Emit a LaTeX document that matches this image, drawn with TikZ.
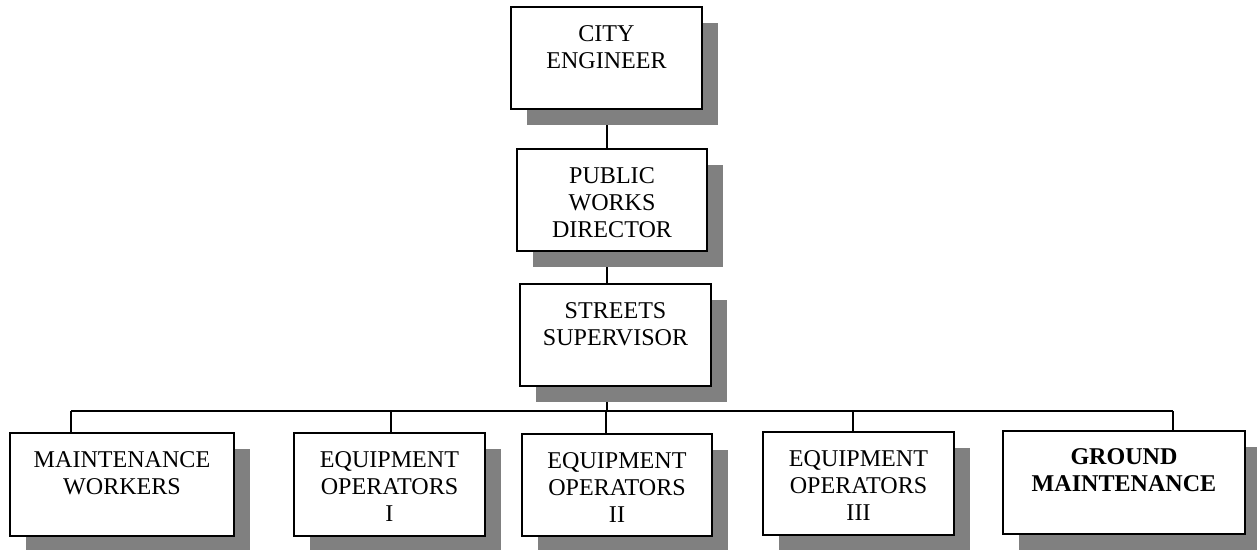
\documentclass[tikz,border=0pt]{standalone}
\usepackage{fontspec}
\setmainfont{Liberation Serif}
\usetikzlibrary{shadows,backgrounds}

\begin{document}
\begin{tikzpicture}[every node/.style={font=\fontsize{13.7}{15.4}\selectfont},
  poste/.style={draw, line width=1.1pt, fill=white, minimum width=#1, minimum height=2.05cm, inner sep=0pt,
    drop shadow={shadow xshift=0.31cm, shadow yshift=-0.32cm, fill=black!50, opacity=1}},
  poste/.default=3.82cm,
  titre/.style={anchor=north, inner sep=0pt, yshift=-0.38cm, align=center},
  lien/.style={line width=0.85pt}]
  \useasboundingbox (0,0) rectangle (25.14,-11);

  % Direction (en haut)
  \node[poste] (ce) at (12.13,-1.16) {};
  \node[titre] (ceT) at (ce.north) {CITY\\ENGINEER};
  \node[poste=3.80cm] (pw) at (12.24,-4.00) {};
  \node[titre] (pwT) at (pw.north) {PUBLIC\\WORKS\\DIRECTOR};
  \node[poste] (ss) at (12.31,-6.70) {};
  \node[titre] (ssT) at (ss.north) {STREETS\\SUPERVISOR};

  % Equipes (en bas)
  \node[poste=4.48cm] (mw) at (2.44,-9.69) {};
  \node[titre] (mwT) at (mw.north) {MAINTENANCE\\WORKERS};
  \node[poste] (eo1) at (7.79,-9.69) {};
  \node[titre] (eo1T) at (eo1.north) {EQUIPMENT\\OPERATORS\\I};
  \node[poste=3.80cm] (eo2) at (12.34,-9.70) {};
  \node[titre] (eo2T) at (eo2.north) {EQUIPMENT\\OPERATORS\\II};
  \node[poste] (eo3) at (17.17,-9.67) {};
  \node[titre] (eo3T) at (eo3.north) {EQUIPMENT\\OPERATORS\\III};
  \node[poste=4.84cm] (gm) at (22.48,-9.65) {};
  \node[titre, yshift=0.02cm] (gmT) at (gm.north) {\textbf{GROUND}\\\textbf{MAINTENANCE}};

  % Liaisons
  \begin{scope}[on background layer]
    \coordinate (axe) at (12.14,0);
    \draw[lien] (axe |- ce.south) -- (axe |- pw.north);
    \draw[lien] (axe |- pw.south) -- (axe |- ss.north);
    \coordinate (busL) at (1.42,-8.22);
    \coordinate (busR) at (23.46,-8.22);
    \draw[lien] (axe |- ss.south) -- (axe |- busL);
    \draw[lien] (busL) -- (busR);
    \foreach \n/\x in {mw/1.42, eo1/7.82, eo2/12.12, eo3/17.06, gm/23.46} {
      \path (\x,-8.22) coordinate (haut);
      \draw[lien] (haut) -- (haut |- \n.north);
    }
  \end{scope}
\end{tikzpicture}
\end{document}
